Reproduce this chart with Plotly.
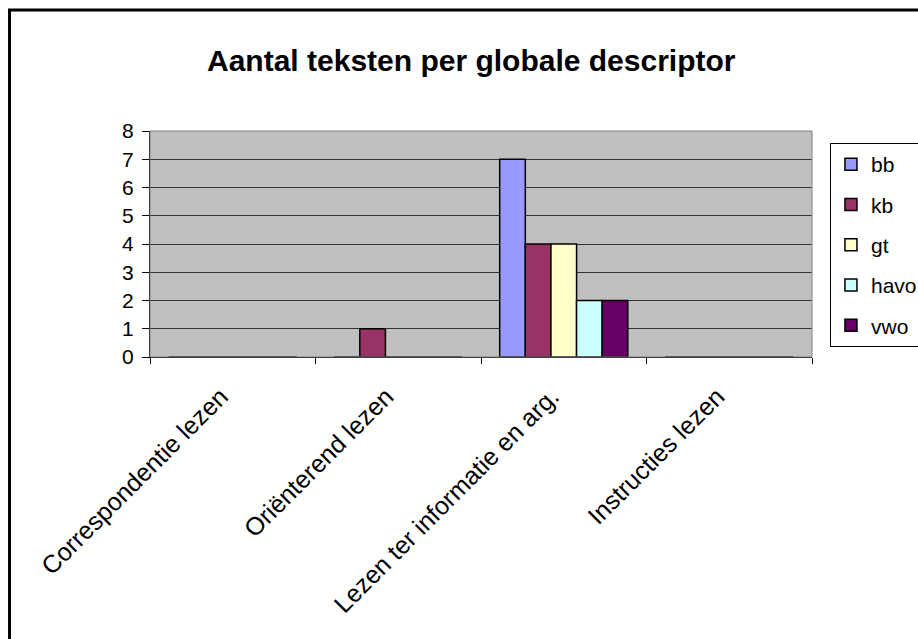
import plotly.graph_objects as go

# Reading-skill categories and number of texts per school level
categories = ["Correspondentie lezen", "Oriënterend lezen",
              "Lezen ter informatie en arg.", "Instructies lezen"]
series_names = ["bb", "kb", "gt", "havo", "vwo"]
bb = [0, 0, 7, 0]
kb = [0, 1, 4, 0]
gt = [0, 0, 4, 0]
havo = [0, 0, 2, 0]
vwo = [0, 0, 2, 0]
y_ticks = [0, 1, 2, 3, 4, 5, 6, 7, 8]

series_values = [bb, kb, gt, havo, vwo]
colors = ["#9999FF", "#993366", "#FFFFCC", "#CCFFFF", "#660066"]

FONT = "Arial, Liberation Sans, sans-serif"

fig = go.Figure()
for name, vals, col in zip(series_names, series_values, colors):
    fig.add_trace(go.Bar(
        x=categories, y=vals, name=name, legendgroup=name,
        marker=dict(color=col, line=dict(color="#000000", width=1.5)),
    ))

fig.update_layout(
    width=918, height=639,
    margin=dict(l=150, r=106, t=131, b=282, autoexpand=False),
    paper_bgcolor="white",
    plot_bgcolor="#C0C0C0",
    barmode="group",
    bargap=0.226,
    bargroupgap=0,
    font=dict(family=FONT, color="black", size=21),
    showlegend=True,
    legend=dict(
        xref="container", yref="container",
        x=0.9041, y=0.7762, xanchor="left", yanchor="top",
        bgcolor="white", bordercolor="#000000", borderwidth=1,
        font=dict(family=FONT, size=21, color="black"),
        tracegroupgap=10,
        entrywidth=90,
    ),
    xaxis=dict(
        type="category",
        tickangle=-45,
        tickson="boundaries",
        ticks="outside", ticklen=6, tickcolor="black", tickwidth=1,
        showline=True, linecolor="black", linewidth=1,
        showgrid=False,
        tickfont=dict(family=FONT, size=25, color="black"),
        ticklabelstandoff=14,
        ticklabelshift=-12,
    ),
    yaxis=dict(
        range=[0, 8],
        tickvals=y_ticks,
        ticks="outside", ticklen=7, tickcolor="black", tickwidth=1,
        showline=True, linecolor="black", linewidth=1,
        showgrid=True, gridcolor="#333333", gridwidth=1,
        zeroline=False,
        tickfont=dict(family=FONT, size=21, color="black"),
        ticklabelstandoff=4,
    ),
    shapes=[
        # plot-area frame (top and right edges)
        dict(type="rect", xref="paper", yref="paper", x0=0, x1=1, y0=0, y1=1,
             line=dict(color="#808080", width=1), layer="above"),
        # outer chart frame, running off the page on the right and bottom
        dict(type="rect", xref="paper", yref="paper",
             x0=-0.2122, x1=1.3, y0=-1.5, y1=1.5354,
             line=dict(color="black", width=3), layer="below"),
    ],
    annotations=[
        dict(text="<b>Aantal teksten per globale descriptor</b>",
             xref="paper", yref="paper", x=0.485, y=1.314,
             xanchor="center", yanchor="middle", showarrow=False,
             font=dict(family=FONT, size=30, color="black")),
    ],
)

fig.write_html("out.html")
